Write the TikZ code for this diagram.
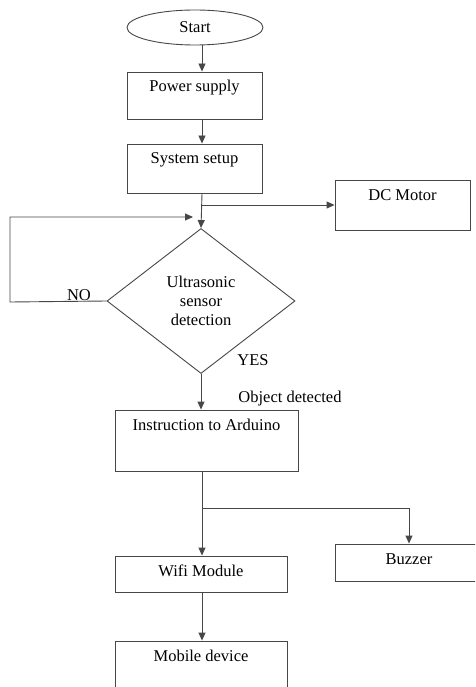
\documentclass[tikz,border=0pt]{standalone}
\usepackage{fontspec}
\setmainfont{Liberation Serif}
\usetikzlibrary{shapes.geometric,arrows.meta}
\begin{document}
\begin{tikzpicture}[x=1pt,y=-1pt,
  lw/.style={line width=0.9pt,draw=black!72},
  arr/.style={lw,-{Triangle[length=8pt,width=7pt]}},
  txt/.style={font=\fontsize{16.5}{19}\selectfont,text=black},
  box/.style={txt,lw,rectangle,inner sep=0pt,text height=20pt,align=center},
  lbl/.style={txt,inner sep=0pt}]
\useasboundingbox (0,0) rectangle (475,687);
\clip (0,0) rectangle (475,687);
\fill[white] (0,0) rectangle (475,687);
\coordinate (axis) at (202,0);
\node[txt,lw,ellipse,inner sep=0pt,minimum width=136pt,minimum height=35pt] (start) at (195,27.5) {Start};
\node[box,minimum width=135pt,text depth=27pt] (ps) at (194.5,95.5) {Power supply};
\node[box,minimum width=135pt,text depth=29pt] (ss) at (194.5,168.5) {System setup};
\node[box,minimum width=135pt,text depth=30pt] (dc) at (402.5,205) {DC Motor};
\node[txt,lw,diamond,inner sep=0pt,minimum width=188pt,minimum height=145pt,align=center] (dec) at (201,301) {Ultrasonic\\sensor\\detection};
\node[box,minimum width=183pt,text depth=41pt] (ins) at (206.5,440.5) {Instruction to Arduino};
\node[box,minimum width=148pt,text depth=17pt] (buz) at (409,562.5) {Buzzer};
\node[box,minimum width=172pt,text depth=16pt] (wifi) at (201,574) {Wifi Module};
\node[box,minimum width=172pt,text depth=39pt] (mob) at (201,670.5) {Mobile device};
\node[lbl] (no) at (79,295) {NO};
\node[lbl] (yes) at (253,360) {YES};
\node[lbl] (obj) at (290,399) {Object detected};
\coordinate (j1) at (202,205);
\coordinate (loopend) at (193,217);
\coordinate (j2) at (202,508);
\draw[arr] (start.south -| axis) -- (ps.north -| axis);
\draw[arr] (ps.south -| axis) -- (ss.north -| axis);
\draw[arr] (ss.south -| axis) -- (dec.north);
\draw[arr] (j1) -- (dc.west);
\draw[arr] (dec.west) -- (10,302) -- (10,217) -- (loopend);
\draw[arr] (dec.south) -- (ins.north -| dec.south);
\draw[arr] (ins.south -| axis) -- (wifi.north -| axis);
\draw[arr] (j2) -| (buz.north);
\draw[arr] (wifi.south -| axis) -- (mob.north -| axis);
\end{tikzpicture}
\end{document}
